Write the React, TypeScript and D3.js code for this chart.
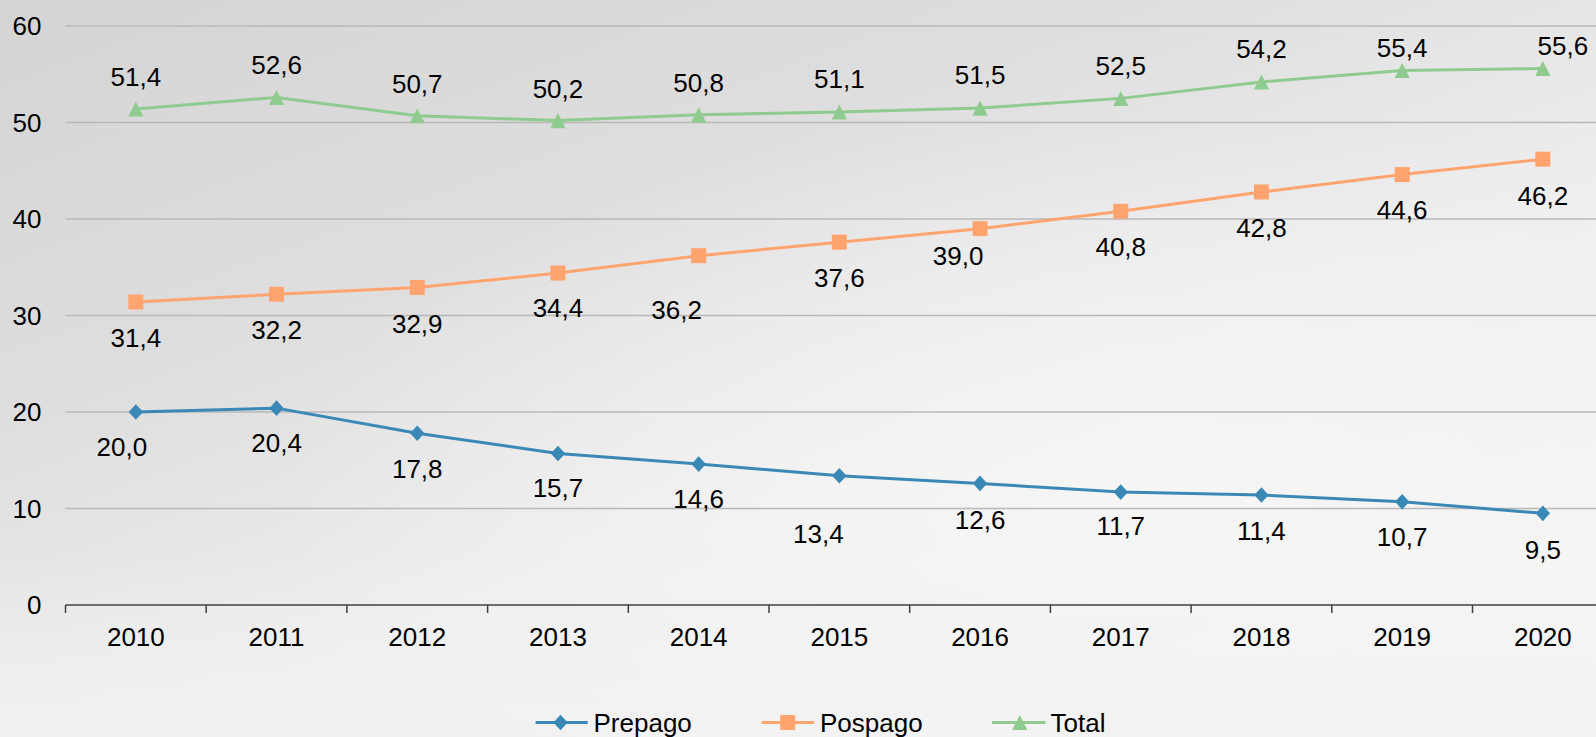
import React from "react";
import * as d3 from "d3";

const years = ["2010", "2011", "2012", "2013", "2014", "2015", "2016", "2017", "2018", "2019", "2020"];
const prepago = [20.0, 20.4, 17.8, 15.7, 14.6, 13.4, 12.6, 11.7, 11.4, 10.7, 9.5];
const pospago = [31.4, 32.2, 32.9, 34.4, 36.2, 37.6, 39.0, 40.8, 42.8, 44.6, 46.2];
const total = [51.4, 52.6, 50.7, 50.2, 50.8, 51.1, 51.5, 52.5, 54.2, 55.4, 55.6];
const yTicks = [0, 10, 20, 30, 40, 50, 60];

// manual label nudges (pixels) as placed in the original chart
const prepagoLabelDx = [-14, 0, 0, 0, 0, -21, 0, 0, 0, 0, 0];
const prepagoLabelDy = [35, 34, 35, 34, 34, 58, 36, 34, 36, 35, 36];
const pospagoLabelDx = [0, 0, 0, 0, -22, 0, -22, 0, 0, 0, 0];
const pospagoLabelDy = [36, 35, 36, 35, 54, 35, 27, 35, 36, 35, 36];
const totalLabelDx = [0, 0, 0, 0, 0, 0, 0, 0, 0, 0, 20];
const totalLabelDy = [-32, -33, -32, -32, -32, -33, -33, -33, -33, -23, -23];

const W = 1596;
const H = 737;
const FONT = "'Liberation Sans', Arial, sans-serif";
const FS = 26;
const BASE = 9.4;

const C_PRE = "#3A88B5";
const C_POS = "#FFA36F";
const C_TOT = "#8FCB8F";

const fmt = (v: number) => v.toFixed(1).replace(".", ",");

function Marker({ type, x, y, color }: { type: string; x: number; y: number; color: string }) {
  if (type === "diamond") {
    return <path d={`M${x},${y - 7.8}L${x + 7.2},${y}L${x},${y + 7.8}L${x - 7.2},${y}Z`} fill={color} />;
  }
  if (type === "square") {
    return <rect x={x - 7.5} y={y - 7.5} width={15} height={15} fill={color} />;
  }
  return <path d={`M${x},${y - 7.5}L${x + 7.6},${y + 7.6}L${x - 7.6},${y + 7.6}Z`} fill={color} />;
}

export default function App() {
  const x = d3.scaleBand<string>().domain(years).range([65.5, 65.5 + 140.7 * years.length]).padding(0);
  const y = d3.scaleLinear().domain([0, 60]).range([605, 26]);
  const cx = (yr: string) => (x(yr) as number) + x.bandwidth() / 2;

  const series = [
    { name: "Prepago", values: prepago, color: C_PRE, marker: "diamond", dx: prepagoLabelDx, dy: prepagoLabelDy },
    { name: "Pospago", values: pospago, color: C_POS, marker: "square", dx: pospagoLabelDx, dy: pospagoLabelDy },
    { name: "Total", values: total, color: C_TOT, marker: "triangle", dx: totalLabelDx, dy: totalLabelDy },
  ];

  const line = d3
    .line<number>()
    .x((_, i) => cx(years[i]))
    .y((v) => y(v));

  const boundaries = d3.range(years.length + 1).map((i) => x.range()[0] + i * x.bandwidth());

  const legendItems = [
    { name: "Prepago", color: C_PRE, marker: "diamond", x0: 535.6, x1: 587.7, mx: 560.5, tx: 593.5 },
    { name: "Pospago", color: C_POS, marker: "square", x0: 761.7, x1: 814.2, mx: 787.7, tx: 820 },
    { name: "Total", color: C_TOT, marker: "triangle", x0: 992, x1: 1045.5, mx: 1019.8, tx: 1050.5 },
  ];
  const legendY = 722.5;

  return (
    <svg
      width={W}
      height={H}
      style={{ position: "absolute", left: 0, top: 0, display: "block" }}
      fontFamily={FONT}
    >
      <defs>
        <linearGradient id="bg" x1="0" y1="0" x2="0.8" y2="1">
          <stop offset="0" stopColor="#d4d4d4" />
          <stop offset="0.35" stopColor="#dedede" />
          <stop offset="0.65" stopColor="#eeeeee" />
          <stop offset="1" stopColor="#f5f5f5" />
        </linearGradient>
        <radialGradient id="spot" cx="0.72" cy="0.7" r="0.55">
          <stop offset="0" stopColor="#f6f6f6" stopOpacity="0.9" />
          <stop offset="1" stopColor="#f6f6f6" stopOpacity="0" />
        </radialGradient>
        <linearGradient id="bottom" x1="0" y1="0" x2="0" y2="1">
          <stop offset="0.75" stopColor="#f2f2f2" stopOpacity="0" />
          <stop offset="1" stopColor="#f2f2f2" stopOpacity="0.8" />
        </linearGradient>
      </defs>
      <rect x={0} y={0} width={W} height={H} fill="url(#bg)" />
      <rect x={0} y={0} width={W} height={H} fill="url(#spot)" />
      <rect x={0} y={0} width={W} height={H} fill="url(#bottom)" />

      {/* gridlines */}
      {yTicks
        .filter((t) => t !== 0)
        .map((t) => (
          <line key={t} x1={x.range()[0]} x2={x.range()[1]} y1={y(t)} y2={y(t)} stroke="#b8b8b8" strokeWidth={1.5} />
        ))}

      {/* y tick labels */}
      {yTicks.map((t) => (
        <text key={t} x={41.5} y={y(t) + BASE} textAnchor="end" fontSize={FS} fill="#000">
          {t}
        </text>
      ))}

      {/* x axis */}
      <line x1={x.range()[0]} x2={x.range()[1]} y1={y(0)} y2={y(0)} stroke="#404040" strokeWidth={1.5} />
      {boundaries.map((b, i) => (
        <line key={i} x1={b} x2={b} y1={y(0)} y2={y(0) + 8} stroke="#404040" strokeWidth={1.5} />
      ))}
      {years.map((yr) => (
        <text key={yr} x={cx(yr)} y={646} textAnchor="middle" fontSize={FS} fill="#000">
          {yr}
        </text>
      ))}

      {/* series */}
      {series.map((s) => (
        <g key={s.name}>
          <path d={line(s.values) || ""} fill="none" stroke={s.color} strokeWidth={3} strokeLinejoin="round" />
          {s.values.map((v, i) => (
            <Marker key={i} type={s.marker} x={cx(years[i])} y={y(v)} color={s.color} />
          ))}
          {s.values.map((v, i) => (
            <text
              key={"l" + i}
              x={cx(years[i]) + s.dx[i]}
              y={y(v) + s.dy[i] + BASE}
              textAnchor="middle"
              fontSize={FS}
              fill="#000"
            >
              {fmt(v)}
            </text>
          ))}
        </g>
      ))}

      {/* legend */}
      {legendItems.map((l) => (
        <g key={l.name}>
          <line x1={l.x0} x2={l.x1} y1={legendY} y2={legendY} stroke={l.color} strokeWidth={3} />
          <Marker type={l.marker} x={l.mx} y={legendY} color={l.color} />
          <text x={l.tx} y={legendY + BASE} fontSize={FS} fill="#000">
            {l.name}
          </text>
        </g>
      ))}
    </svg>
  );
}
